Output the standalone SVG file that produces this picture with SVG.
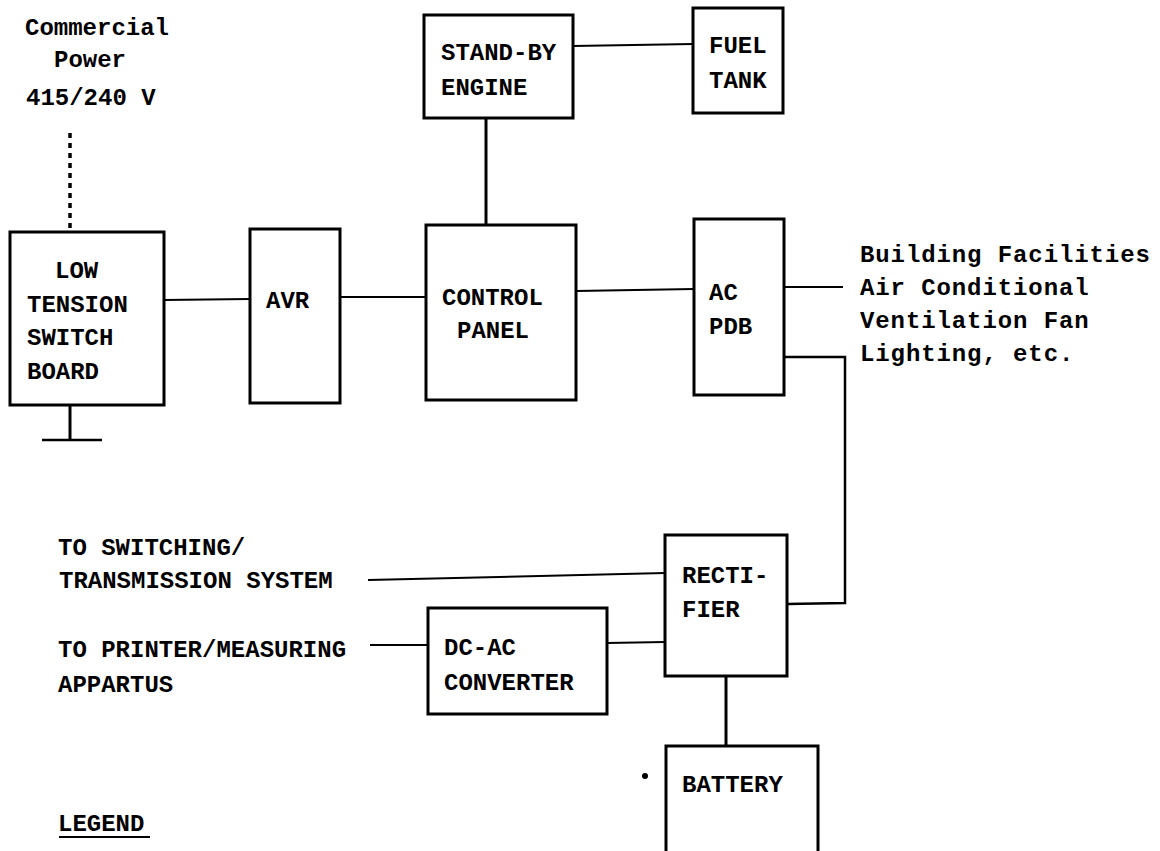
<svg xmlns="http://www.w3.org/2000/svg" width="1160" height="851" viewBox="0 0 1160 851">
<style>
.box{fill:#fff;stroke:#000;stroke-width:3}
.t{font-family:"Liberation Mono","DejaVu Sans Mono",monospace;font-weight:bold;font-size:24px;fill:#000}
.w{letter-spacing:0.9px}
.c{fill:none;stroke:#000;stroke-width:2}
.k{stroke-width:3}
</style>
<rect width="1160" height="851" fill="#fff"/>
<g id="connectors">
<line class="c" x1="70" y1="133" x2="70" y2="230" style="stroke-width:3.5;stroke-dasharray:5,5"/>
<line class="c k" x1="70" y1="405" x2="70" y2="440"/>
<line class="c" x1="42" y1="440" x2="102" y2="440" style="stroke-width:2.5"/>
<line class="c" x1="164" y1="300" x2="250" y2="299"/>
<line class="c" x1="340" y1="297" x2="426" y2="297"/>
<line class="c k" x1="486" y1="118" x2="486" y2="225"/>
<line class="c" x1="573" y1="46" x2="693" y2="44"/>
<line class="c" x1="576" y1="291" x2="694" y2="289"/>
<line class="c" x1="784" y1="287" x2="843" y2="287"/>
<polyline class="c" points="784,357 845,357 845,603 787,604" style="stroke-width:2.5"/>
<line class="c" x1="368" y1="580" x2="665" y2="573"/>
<line class="c" x1="370" y1="645" x2="428" y2="645"/>
<line class="c" x1="607" y1="643" x2="665" y2="642"/>
<line class="c k" x1="726" y1="676" x2="726" y2="746"/>
</g>
<g id="commercial-power">
<text class="t" x="25" y="35">Commercial</text>
<text class="t" x="54" y="67">Power</text>
<text class="t" x="26" y="105">415/240 V</text>
</g>
<g id="lt-switchboard">
<rect class="box" x="10" y="232" width="154" height="173"/>
<text class="t" x="55" y="278">LOW</text>
<text class="t" x="27" y="312">TENSION</text>
<text class="t" x="27" y="345">SWITCH</text>
<text class="t" x="27" y="379">BOARD</text>
</g>
<g id="avr">
<rect class="box" x="250" y="229" width="90" height="174"/>
<text class="t" x="266" y="308">AVR</text>
</g>
<g id="standby-engine">
<rect class="box" x="424" y="15" width="149" height="103"/>
<text class="t" x="441" y="60">STAND-BY</text>
<text class="t" x="441" y="95">ENGINE</text>
</g>
<g id="fuel-tank">
<rect class="box" x="693" y="8" width="90" height="105"/>
<text class="t" x="709" y="53">FUEL</text>
<text class="t" x="709" y="88">TANK</text>
</g>
<g id="control-panel">
<rect class="box" x="426" y="225" width="150" height="175"/>
<text class="t" x="442" y="305">CONTROL</text>
<text class="t" x="457" y="338">PANEL</text>
</g>
<g id="ac-pdb">
<rect class="box" x="694" y="219" width="90" height="176"/>
<text class="t" x="709" y="300">AC</text>
<text class="t" x="709" y="334">PDB</text>
</g>
<g id="building-facilities">
<text class="t w" x="860" y="262">Building Facilities</text>
<text class="t w" x="860" y="295">Air Conditional</text>
<text class="t w" x="860" y="328">Ventilation Fan</text>
<text class="t w" x="860" y="361">Lighting, etc.</text>
</g>
<g id="to-switching">
<text class="t" x="58" y="555">TO SWITCHING/</text>
<text class="t" x="59" y="588">TRANSMISSION SYSTEM</text>
</g>
<g id="to-printer">
<text class="t" x="58" y="657">TO PRINTER/MEASURING</text>
<text class="t" x="58" y="692">APPARTUS</text>
</g>
<g id="rectifier">
<rect class="box" x="665" y="535" width="122" height="141"/>
<text class="t" x="682" y="583">RECTI-</text>
<text class="t" x="682" y="617">FIER</text>
</g>
<g id="dc-ac-converter">
<rect class="box" x="428" y="608" width="179" height="106"/>
<text class="t" x="444" y="655">DC-AC</text>
<text class="t" x="444" y="690">CONVERTER</text>
</g>
<g id="battery">
<rect class="box" x="666" y="746" width="152" height="130"/>
<text class="t" x="682" y="792">BATTERY</text>
</g>
<circle cx="645" cy="776" r="3" fill="#000"/>
<g id="legend">
<text class="t" x="58" y="831">LEGEND</text>
<line x1="59" y1="837" x2="150" y2="837" stroke="#000" stroke-width="2"/>
</g>
</svg>
